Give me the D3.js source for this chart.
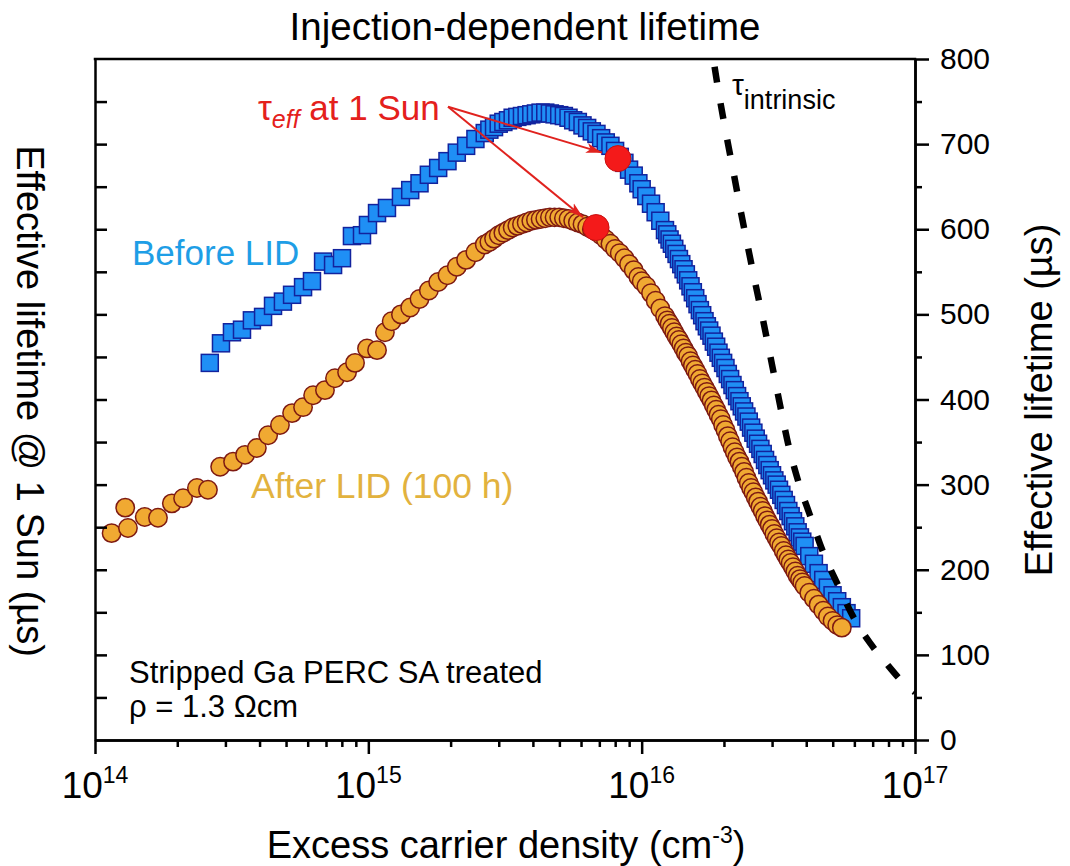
<!DOCTYPE html>
<html>
<head>
<meta charset="utf-8">
<script src="https://cdn.jsdelivr.net/npm/d3@7"></script>
<style>
body { margin: 0; background: #fff; }
text { font-family: Arial, "Liberation Sans", sans-serif; }
</style>
</head>
<body>
<div id="chart"></div>
<script>

// before LID (squares)
var beforeX = [2.63e14, 2.89e14, 3.17e14, 3.45e14, 3.75e14, 4.12e14, 4.48e14, 4.87e14, 5.26e14, 5.77e14,
  6.22e14, 6.83e14, 7.43e14, 8.01e14, 8.71e14, 9.48e14, 9.97e14, 1.076e15, 1.17e15, 1.316e15,
  1.423e15, 1.539e15, 1.665e15, 1.801e15, 1.948e15, 2.107e15, 2.279e15, 2.465e15, 2.666e15, 2.772e15,
  2.883e15, 2.999e15, 3.119e15, 3.243e15, 3.373e15, 3.508e15, 3.648e15, 3.794e15, 3.946e15, 4.104e15,
  4.268e15, 4.439e15, 4.616e15, 4.801e15, 4.993e15, 5.193e15, 5.400e15, 5.617e15, 5.841e15, 6.075e15,
  6.318e15, 6.571e15, 6.833e15, 7.107e15, 7.391e15, 7.687e15, 7.994e15, 8.314e15, 8.646e15, 8.992e15,
  9.352e15, 9.726e15, 1.000e16, 1.040e16, 1.082e16, 1.125e16, 1.170e16, 1.217e16,
  1.241e16, 1.265e16, 1.290e16, 1.316e16, 1.342e16, 1.369e16, 1.396e16, 1.423e16, 1.451e16, 1.480e16,
  1.509e16, 1.539e16, 1.570e16, 1.601e16, 1.633e16, 1.665e16, 1.698e16, 1.732e16, 1.766e16, 1.801e16,
  1.837e16, 1.873e16, 1.910e16, 1.948e16, 1.986e16, 2.026e16, 2.066e16, 2.107e16, 2.149e16, 2.191e16,
  2.234e16, 2.279e16, 2.324e16, 2.370e16, 2.417e16, 2.465e16, 2.514e16, 2.563e16, 2.614e16, 2.666e16,
  2.719e16, 2.772e16, 2.827e16, 2.883e16, 2.940e16, 2.999e16, 3.058e16, 3.119e16, 3.180e16, 3.243e16,
  3.308e16, 3.373e16, 3.440e16, 3.508e16, 3.578e16, 3.648e16, 3.721e16, 3.794e16, 3.869e16, 3.946e16,
  4.104e16, 4.268e16, 4.439e16, 4.616e16, 4.801e16, 4.993e16, 5.193e16, 5.400e16, 5.617e16, 5.841e16];
var beforeY = [443, 466, 479, 482, 493, 497, 510, 515, 523, 532,
  539, 562, 558, 566, 592, 593, 605, 619, 625, 638,
  646, 654, 664, 672, 680, 690, 698, 706, 713, 717,
  720, 724, 726, 728, 731, 732, 733, 734, 735, 736,
  737, 737, 736, 735, 734, 733, 731, 728, 726, 722,
  719, 715, 712, 707, 702, 698, 692, 685, 678, 670,
  663, 654, 647, 639, 630, 620, 610, 599,
  594, 588, 583, 577, 571, 565, 559, 553, 547, 540,
  533, 526, 519, 512, 505, 499, 492, 486, 481, 475,
  468, 462, 455, 449, 443, 437, 430, 424, 417, 411,
  404, 398, 392, 386, 380, 374, 367, 361, 354, 348,
  342, 336, 329, 323, 317, 311, 305, 300, 294, 288,
  282, 276, 269, 263, 257, 251, 244, 238, 233, 228,
  216, 207, 196, 188, 179, 170, 163, 156, 149, 143];

// after LID 100 h (circles)
var afterX = [1.15e14, 1.29e14, 1.32e14, 1.52e14, 1.70e14, 1.91e14, 2.10e14, 2.36e14, 2.59e14, 2.87e14,
  3.20e14, 3.54e14, 3.91e14, 4.30e14, 4.75e14, 5.26e14, 5.77e14, 6.28e14, 6.94e14, 7.55e14,
  8.36e14, 8.94e14, 9.89e14, 1.076e15, 1.15e15, 1.217e15, 1.316e15, 1.423e15, 1.539e15, 1.665e15,
  1.801e15, 1.948e15, 2.107e15, 2.279e15, 2.465e15, 2.666e15, 2.772e15, 2.883e15, 2.999e15, 3.119e15,
  3.243e15, 3.373e15, 3.508e15, 3.648e15, 3.794e15, 3.946e15, 4.104e15, 4.268e15, 4.439e15, 4.616e15,
  4.801e15, 4.993e15, 5.193e15, 5.400e15, 5.617e15, 5.841e15, 6.075e15, 6.318e15, 6.571e15, 6.833e15,
  7.107e15, 7.391e15, 7.687e15, 7.994e15, 8.314e15, 8.646e15, 8.992e15, 9.352e15, 9.726e15,
  1.000e16, 1.040e16, 1.082e16, 1.125e16, 1.170e16, 1.217e16,
  1.241e16, 1.265e16, 1.290e16, 1.316e16, 1.342e16, 1.369e16, 1.396e16, 1.423e16, 1.451e16, 1.480e16,
  1.509e16, 1.539e16, 1.570e16, 1.601e16, 1.633e16, 1.665e16, 1.698e16, 1.732e16, 1.766e16, 1.801e16,
  1.837e16, 1.873e16, 1.910e16, 1.948e16, 1.986e16, 2.026e16, 2.066e16, 2.107e16, 2.149e16, 2.191e16,
  2.234e16, 2.279e16, 2.324e16, 2.370e16, 2.417e16, 2.465e16, 2.514e16, 2.563e16, 2.614e16, 2.666e16,
  2.719e16, 2.772e16, 2.827e16, 2.883e16, 2.940e16, 2.999e16, 3.058e16, 3.119e16, 3.180e16, 3.243e16,
  3.308e16, 3.373e16, 3.440e16, 3.508e16, 3.578e16, 3.648e16, 3.721e16, 3.794e16, 3.869e16, 3.946e16,
  4.104e16, 4.268e16, 4.439e16, 4.616e16, 4.801e16, 4.993e16, 5.193e16, 5.400e16];
var afterY = [243, 273, 249, 262, 261, 278, 284, 296, 294, 321,
  327, 335, 343, 358, 370, 384, 391, 405, 411, 425,
  432, 443, 460, 458, 479, 492, 500, 508, 518, 528,
  538, 546, 556, 564, 573, 582, 585, 589, 593, 596,
  599, 602, 604, 606, 608, 610, 611, 612, 613, 614,
  614, 614, 613, 612, 610, 608, 606, 603, 600, 597,
  593, 588, 583, 577, 572, 566, 559, 552, 544,
  539, 533, 525, 516, 507, 498,
  493, 489, 484, 479, 474, 470, 465, 460, 455, 451,
  445, 440, 435, 430, 424, 419, 414, 409, 404, 399,
  393, 388, 382, 377, 370, 364, 357, 351, 344, 338,
  332, 327, 321, 315, 308, 302, 296, 291, 285, 280,
  274, 269, 263, 258, 253, 248, 242, 237, 232, 228,
  222, 217, 212, 208, 203, 198, 193, 189, 185, 181,
  173, 166, 159, 152, 145, 140, 135, 132];

// intrinsic lifetime (dashed)
var intrX = [1.763e16, 1.934e16, 2.051e16, 2.176e16, 2.308e16, 2.448e16, 2.619e16, 2.802e16, 2.998e16, 3.206e16,
  3.429e16, 3.731e16, 4.128e16, 4.607e16, 5.226e16, 6.031e16, 6.844e16, 7.765e16, 8.96e16, 1e17];
var intrY = [834, 752, 707, 664, 620, 579, 533, 488, 441, 394,
  349, 305, 264, 221, 182, 141, 114, 92, 69, 56];

// tau_eff at 1 Sun
var sunX = [8.19e15, 6.81e15];
var sunY = [683, 602];
var arrowFrom = [1.957e15, 744];
var arrowTo = [[7.16e15, 690], [6.1e15, 614]];

var xMajor = [1e14, 1e15, 1e16, 1e17];
var xMajorExp = ["14", "15", "16", "17"];
var yMajor = [0, 100, 200, 300, 400, 500, 600, 700, 800];

var W = 1070, H = 866;
var plotL = 95, plotR = 915, plotT = 59, plotB = 740;

var svg = d3.select("#chart").append("svg")
  .attr("width", W)
  .attr("height", H);

var x = d3.scaleLog().domain([1e14, 1e17]).range([plotL, plotR]);
var y = d3.scaleLinear().domain([0, 800]).range([plotB, plotT]);

svg.append("clipPath").attr("id", "clip")
  .append("rect")
  .attr("x", plotL).attr("y", plotT)
  .attr("width", plotR - plotL).attr("height", plotB - plotT);

// before LID squares
var before = beforeX.map(function(d, i){ return {x: d, y: beforeY[i]}; });
svg.append("g").selectAll("rect")
  .data(before)
  .enter().append("rect")
  .attr("x", function(d){ return x(d.x) - 8.5; })
  .attr("y", function(d){ return y(d.y) - 8.5; })
  .attr("width", 17)
  .attr("height", 17)
  .attr("fill", "#1f8ff5")
  .attr("stroke", "#12239e")
  .attr("stroke-width", 1.5);

// after LID circles
var after = afterX.map(function(d, i){ return {x: d, y: afterY[i]}; });
svg.append("g").selectAll("circle")
  .data(after)
  .enter().append("circle")
  .attr("cx", function(d){ return x(d.x); })
  .attr("cy", function(d){ return y(d.y); })
  .attr("r", 9.2)
  .attr("fill", "#f0a932")
  .attr("stroke", "#7e1a12")
  .attr("stroke-width", 1.5);

// intrinsic
var intr = intrX.map(function(d, i){ return [d, intrY[i]]; });
var line = d3.line()
  .x(function(d){ return x(d[0]); })
  .y(function(d){ return y(d[1]); })
  .curve(d3.curveMonotoneX);
svg.append("path")
  .attr("d", line(intr))
  .attr("clip-path", "url(#clip)")
  .attr("fill", "none")
  .attr("stroke", "#000")
  .attr("stroke-width", 6.5)
  .attr("stroke-dasharray", "16,21");

// arrows
svg.append("defs").append("marker")
  .attr("id", "arr")
  .attr("markerUnits", "userSpaceOnUse")
  .attr("markerWidth", 18).attr("markerHeight", 12)
  .attr("refX", 16).attr("refY", 6)
  .attr("orient", "auto")
  .append("path")
  .attr("d", "M0,1 L16,6 L0,11 L4,6 Z")
  .attr("fill", "#e0221e");

arrowTo.forEach(function(t){
  svg.append("line")
    .attr("x1", x(arrowFrom[0])).attr("y1", y(arrowFrom[1]))
    .attr("x2", x(t[0])).attr("y2", y(t[1]))
    .attr("stroke", "#e0221e")
    .attr("stroke-width", 2)
    .attr("marker-end", "url(#arr)");
});

// red dots
svg.append("g").selectAll("circle")
  .data(sunX)
  .enter().append("circle")
  .attr("cx", function(d){ return x(d); })
  .attr("cy", function(d, i){ return y(sunY[i]); })
  .attr("r", 13)
  .attr("fill", "#f41a1a")
  .attr("stroke", "#c81010")
  .attr("stroke-width", 1);

// axes
function styleAxis(g){
  g.selectAll("line").attr("stroke", "#000").attr("stroke-width", 2.5);
  g.select(".domain").attr("stroke", "#000").attr("stroke-width", 2.5);
}

var minorX = x.ticks().filter(function(d){ return xMajor.indexOf(d) < 0; });
svg.append("g")
  .attr("transform", "translate(0," + plotB + ")")
  .call(d3.axisBottom(x).tickValues(minorX).tickSize(7).tickSizeOuter(0).tickFormat(""))
  .call(styleAxis);
svg.append("g")
  .attr("transform", "translate(0," + plotB + ")")
  .call(d3.axisBottom(x).tickValues(xMajor).tickSize(14).tickSizeOuter(0).tickFormat(""))
  .call(styleAxis);

var xl = svg.append("g").selectAll("text")
  .data(xMajor)
  .enter().append("text")
  .attr("x", function(d){ return x(d); })
  .attr("y", 798)
  .attr("text-anchor", "middle")
  .attr("fill", "#000");
xl.append("tspan").attr("font-size", 37).text("10");
xl.append("tspan").attr("font-size", 23).attr("dy", -15).text(function(d, i){ return xMajorExp[i]; });

svg.append("g")
  .attr("transform", "translate(" + plotR + ",0)")
  .call(d3.axisRight(y).tickValues(d3.range(50, 800, 100)).tickSize(7).tickSizeOuter(0).tickFormat(""))
  .call(styleAxis);
svg.append("g")
  .attr("transform", "translate(" + plotR + ",0)")
  .call(d3.axisRight(y).tickValues(yMajor).tickSize(14).tickPadding(11).tickSizeOuter(0))
  .call(styleAxis)
  .selectAll("text")
  .attr("font-size", 30)
  .attr("font-family", "Arial, 'Liberation Sans', sans-serif")
  .attr("fill", "#000");

// left axis, inward ticks without labels
svg.append("g")
  .attr("transform", "translate(" + plotL + ",0)")
  .call(d3.axisRight(y).tickValues(d3.range(50, 800, 50)).tickSize(12).tickSizeOuter(0).tickFormat(""))
  .call(styleAxis);

svg.append("line")
  .attr("x1", plotL - 1.25).attr("x2", plotR + 1.25)
  .attr("y1", plotT).attr("y2", plotT)
  .attr("stroke", "#000").attr("stroke-width", 2.5);

// titles
svg.append("text")
  .attr("x", 525).attr("y", 40)
  .attr("text-anchor", "middle")
  .attr("font-size", 38.5)
  .text("Injection-dependent lifetime");

var xt = svg.append("text")
  .attr("x", 506).attr("y", 858)
  .attr("text-anchor", "middle")
  .attr("font-size", 38);
xt.append("tspan").text("Excess carrier density (cm");
xt.append("tspan").attr("font-size", 23).attr("dy", -15).text("-3");
xt.append("tspan").attr("dy", 15).text(")");

svg.append("text")
  .attr("transform", "translate(17,401) rotate(90)")
  .attr("text-anchor", "middle")
  .attr("font-size", 38)
  .text("Effective lifetime @ 1 Sun (µs)");

svg.append("text")
  .attr("transform", "translate(1052,400) rotate(-90)")
  .attr("text-anchor", "middle")
  .attr("font-size", 38)
  .text("Effective lifetime (µs)");

// annotations
svg.append("text")
  .attr("x", 132).attr("y", 265)
  .attr("font-size", 35)
  .attr("fill", "#1e9ee6")
  .text("Before LID");

svg.append("text")
  .attr("x", 251).attr("y", 498)
  .attr("font-size", 35.5)
  .attr("fill", "#e2b23e")
  .text("After LID (100 h)");

var te = svg.append("text")
  .attr("x", 258).attr("y", 120)
  .attr("font-size", 35)
  .attr("fill", "#e4201c");
te.append("tspan").text("τ");
te.append("tspan").attr("font-size", 25).attr("font-style", "italic").attr("dy", 8).text("eff");
te.append("tspan").attr("dy", -8).text(" at 1 Sun");

var ti = svg.append("text")
  .attr("x", 732).attr("y", 95)
  .attr("font-size", 30)
  .attr("fill", "#000");
ti.append("tspan").text("τ");
ti.append("tspan").attr("font-size", 27).attr("dy", 14).text("intrinsic");

svg.append("text")
  .attr("x", 129).attr("y", 683)
  .attr("font-size", 31)
  .text("Stripped Ga PERC SA treated");
svg.append("text")
  .attr("x", 129).attr("y", 717)
  .attr("font-size", 31)
  .text("ρ = 1.3 Ωcm");

</script>
</body>
</html>
